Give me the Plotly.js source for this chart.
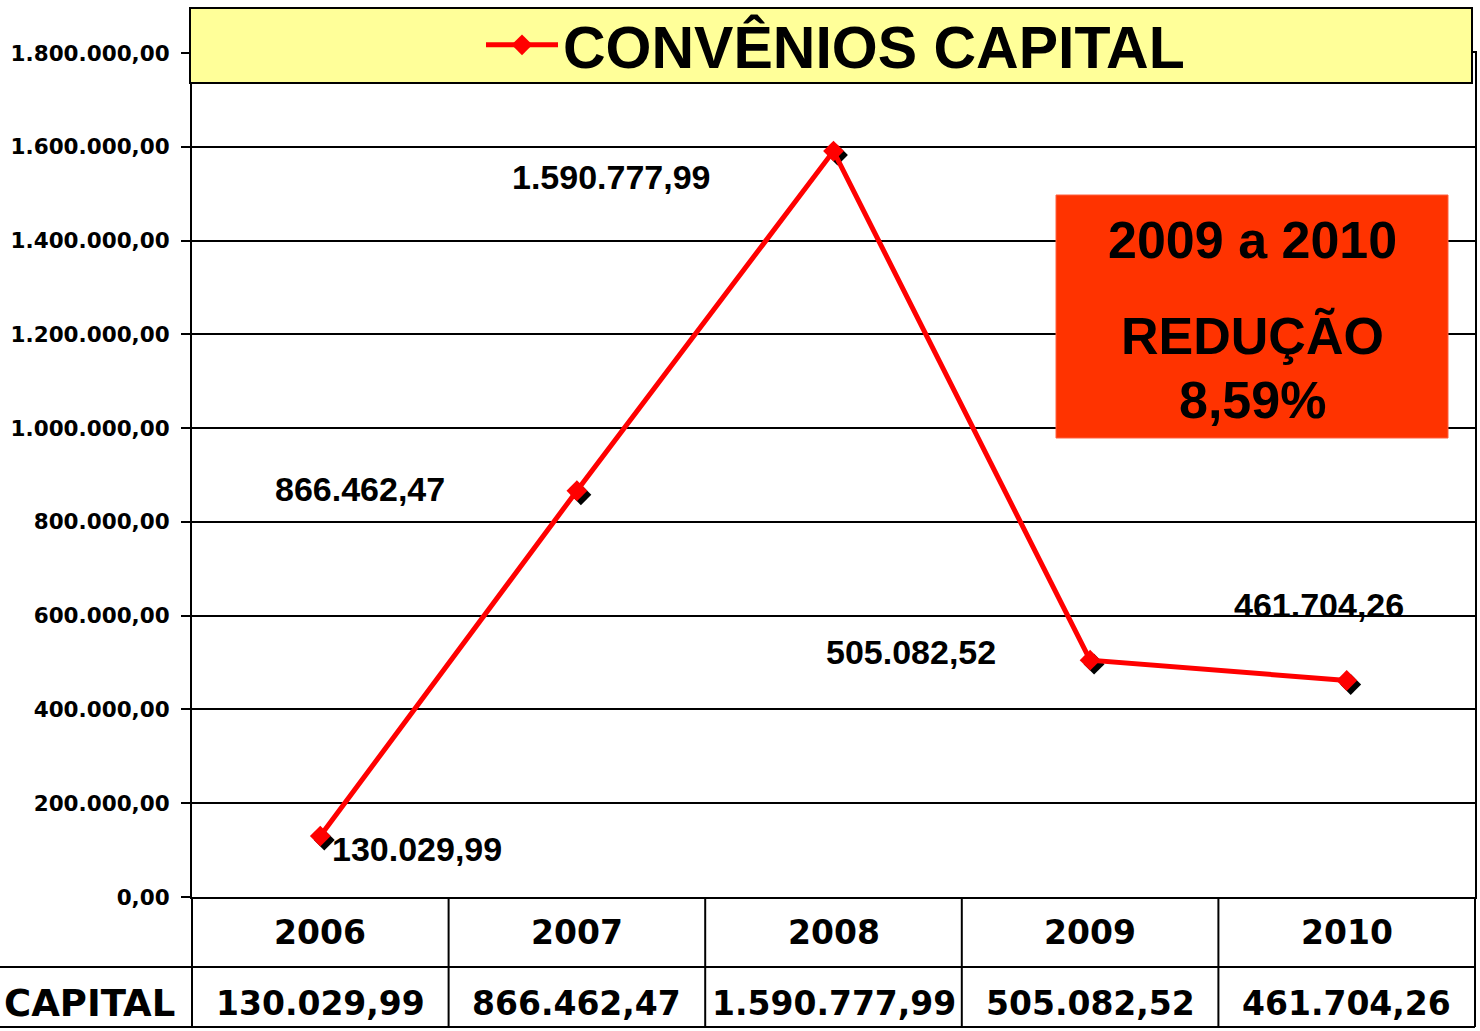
<!DOCTYPE html>
<html>
<head>
<meta charset="utf-8">
<script src="https://cdn.plot.ly/plotly-3.0.1.min.js"></script>
<style>
html,body{margin:0;padding:0;background:#fff;}
#chart{width:1480px;height:1031px;}
</style>
</head>
<body>
<div id="chart"></div>
<script>
// ---- data ----
const years = ['2006', '2007', '2008', '2009', '2010'];
const capital = [130029.99, 866462.47, 1590777.99, 505082.52, 461704.26];
const seriesName = 'CONVÊNIOS CAPITAL';
const rowLabel = 'CAPITAL';
const noteLines = ['2009 a 2010', 'REDUÇÃO', '8,59%'];

// ---- helpers ----
function fmtBR(v) {
  const parts = v.toFixed(2).split('.');
  const intPart = parts[0].replace(/\B(?=(\d{3})+(?!\d))/g, '.');
  return intPart + ',' + parts[1];
}

const W = 1480, H = 1031;
const L = 192, R = 1475, T = 53, B = 897;
const pw = R - L, ph = B - T;
const yMax = 1800000;
const px2paperX = px => (px - L) / pw;
const px2paperY = py => (B - py) / ph;

const ARIAL = 'Liberation Sans, Arial, sans-serif';
const DEJAVU = 'DejaVu Sans, sans-serif';

// shadow offset (pixels) turned into axis-range shifts
const sh = 4;
const catW = pw / years.length;
const dX = sh / catW;
const dY = sh * yMax / ph;

const shadow = {
  x: years, y: capital, type: 'scatter', mode: 'markers',
  xaxis: 'x2', yaxis: 'y2', showlegend: false, hoverinfo: 'skip',
  marker: {symbol: 'diamond', size: 16, color: '#000'}
};
const main = {
  x: years, y: capital, type: 'scatter', mode: 'lines+markers',
  xaxis: 'x3', yaxis: 'y3', name: seriesName,
  line: {color: '#FF0000', width: 5},
  marker: {symbol: 'diamond', size: 16, color: '#FF0000'}
};

// data labels (offsets are styling)
const lblPos = [
  {xanchor: 'left',  xshift: 10,   yshift: -13},
  {xanchor: 'right', xshift: -130, yshift: 2},
  {xanchor: 'right', xshift: -121, yshift: -26},
  {xanchor: 'right', xshift: -92,  yshift: 8},
  {xanchor: 'center', xshift: -28, yshift: 76}
];

const annotations = [];
years.forEach((yr, i) => {
  annotations.push(Object.assign({
    x: i, y: capital[i], xref: 'x', yref: 'y', text: fmtBR(capital[i]),
    showarrow: false, yanchor: 'middle',
    font: {family: ARIAL, size: 34, color: '#000', weight: 'bold'}
  }, lblPos[i]));
  // table: year row
  annotations.push({
    x: i, y: px2paperY(932), xref: 'x', yref: 'paper', text: yr,
    showarrow: false, xanchor: 'center', yanchor: 'middle',
    font: {family: DEJAVU, size: 33, color: '#000', weight: 'bold'}
  });
  // table: value row
  annotations.push({
    x: i, y: px2paperY(1003), xref: 'x', yref: 'paper', text: fmtBR(capital[i]),
    showarrow: false, xanchor: 'center', yanchor: 'middle',
    font: {family: DEJAVU, size: 33, color: '#000', weight: 'bold'}
  });
});
annotations.push({
  x: px2paperX(2), y: px2paperY(1003), xref: 'paper', yref: 'paper', text: rowLabel,
  showarrow: false, xanchor: 'left', yanchor: 'middle',
  font: {family: DEJAVU, size: 37, color: '#000', weight: 'bold'}
});
const noteY = [240, 336, 400];
noteLines.forEach((t, i) => {
  annotations.push({
    x: px2paperX(1252), y: px2paperY(noteY[i]), xref: 'paper', yref: 'paper', text: t,
    showarrow: false, xanchor: 'center', yanchor: 'middle',
    font: {family: ARIAL, size: 52, color: '#000', weight: 'bold'}
  });
});

const shapes = [];
// title box
shapes.push({type: 'rect', xref: 'paper', yref: 'paper', layer: 'above',
  x0: px2paperX(190), x1: px2paperX(1472), y0: px2paperY(83), y1: px2paperY(8),
  fillcolor: '#FFFF99', line: {color: '#000', width: 2}});
// note box
shapes.push({type: 'rect', xref: 'paper', yref: 'paper', layer: 'above',
  x0: px2paperX(1056), x1: px2paperX(1448), y0: px2paperY(438), y1: px2paperY(195),
  fillcolor: '#FF3300', line: {color: '#FF6040', width: 1}});
// table horizontal lines
[967, 1027].forEach(py => {
  shapes.push({type: 'line', xref: 'paper', yref: 'paper',
    x0: px2paperX(0), x1: 1, y0: px2paperY(py), y1: px2paperY(py),
    line: {color: '#000', width: 2}});
});
// table vertical lines
for (let k = 0; k <= years.length; k++) {
  shapes.push({type: 'line', xref: 'paper', yref: 'paper',
    x0: k / years.length, x1: k / years.length, y0: 0, y1: px2paperY(1027),
    line: {color: '#000', width: 2}});
}

const layout = {
  width: W, height: H,
  margin: {l: L, r: W - R, t: T, b: H - B, pad: 0, autoexpand: false},
  paper_bgcolor: '#fff', plot_bgcolor: '#fff',
  separators: ',.',
  showlegend: true,
  legend: {
    x: px2paperX(481), xanchor: 'left', y: px2paperY(45), yanchor: 'middle',
    bgcolor: 'rgba(0,0,0,0)', borderwidth: 0, itemwidth: 72,
    font: {family: ARIAL, size: 59, color: '#000', weight: 'bold'}
  },
  xaxis: {
    type: 'linear', range: [-0.5, years.length - 0.5],
    showticklabels: false, ticks: '', showgrid: false, zeroline: false,
    showline: true, mirror: true, linecolor: '#000', linewidth: 2, fixedrange: true
  },
  yaxis: {
    range: [0, yMax], dtick: 200000, tick0: 0, tickformat: ',.2f',
    ticks: 'outside', ticklen: 9, tickwidth: 2, tickcolor: '#000',
    ticklabelstandoff: 7,
    showgrid: true, gridcolor: '#000', gridwidth: 2, zeroline: false,
    showline: true, mirror: true, linecolor: '#000', linewidth: 2,
    tickfont: {family: DEJAVU, size: 21.5, color: '#000', weight: 'bold'},
    fixedrange: true
  },
  xaxis2: {type: 'category', overlaying: 'x', visible: false,
    range: [-0.5 - dX, years.length - 0.5 - dX]},
  yaxis2: {overlaying: 'y', visible: false, range: [dY, yMax + dY]},
  xaxis3: {type: 'category', overlaying: 'x', visible: false,
    range: [-0.5, years.length - 0.5]},
  yaxis3: {overlaying: 'y', visible: false, range: [0, yMax]},
  annotations: annotations,
  shapes: shapes
};

Plotly.newPlot('chart', [shadow, main], layout, {displayModeBar: false, staticPlot: true});
</script>
</body>
</html>
